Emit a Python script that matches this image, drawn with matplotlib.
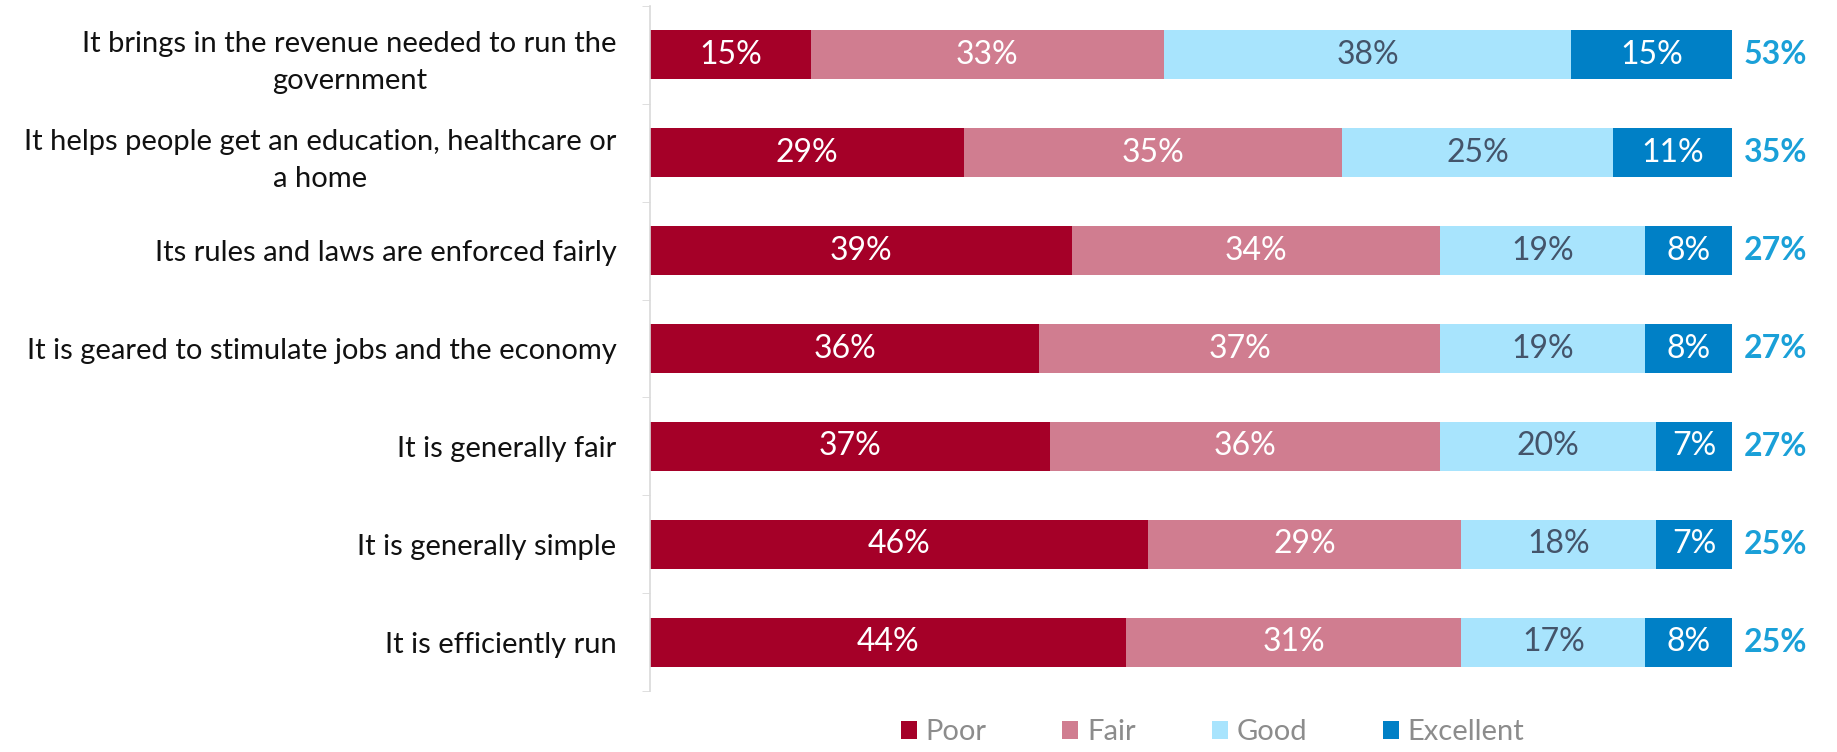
import numpy as np
import matplotlib.pyplot as plt

plt.rcParams['font.family'] = ['Lato', 'DejaVu Sans']

categories = [
    "It brings in the revenue needed to run the\ngovernment",
    "It helps people get an education, healthcare or\na home",
    "Its rules and laws are enforced fairly",
    "It is geared to stimulate jobs and the economy",
    "It is generally fair",
    "It is generally simple",
    "It is efficiently run",
]
poor = [15, 29, 39, 36, 37, 46, 44]
fair = [33, 35, 34, 37, 36, 29, 31]
good = [38, 25, 19, 19, 20, 18, 17]
excellent = [15, 11, 8, 8, 7, 7, 8]
totals = [53, 35, 27, 27, 27, 25, 25]

series = [("Poor", poor, "#A50028", "white"),
          ("Fair", fair, "#D07D90", "white"),
          ("Good", good, "#A8E4FD", "#44546A"),
          ("Excellent", excellent, "#0080C6", "white")]

fig = plt.figure(figsize=(18.37, 7.52), dpi=100)
ax = fig.add_axes([0.3538, 0.081, 0.589, 0.911])

data = np.array([s[1] for s in series], dtype=float)
shares = data / data.sum(axis=0) * 100
y = np.arange(len(categories))
left = np.zeros(len(categories))
for (name, vals, col, tcol), w in zip(series, shares):
    ax.barh(y, w, left=left, height=0.5, color=col, label=name)
    for yi, li, wi, v in zip(y, left, w, vals):
        ax.text(li + wi / 2, yi, f"{v}%", ha='center', va='center',
                color=tcol, fontsize=23)
    left += w

for yi, t in zip(y, totals):
    ax.text(101.1, yi, f"{t}%", ha='left', va='center', color='#1AA0D8',
            fontsize=23, fontweight='bold')

ax.set_xlim(0, 100)
ax.set_ylim(len(categories) - 0.5, -0.5)
ax.set_yticks(y)
ax.set_yticklabels(categories, fontsize=21, color='#111111',
                   multialignment='center', linespacing=1.5)
ax.set_yticks(np.arange(len(categories) + 1) - 0.5, minor=True)
ax.tick_params(axis='y', which='major', length=0, pad=24)
ax.tick_params(axis='y', which='minor', length=6, color='#D9D9D9')
ax.set_xticks([])
for s in ['top', 'right', 'bottom']:
    ax.spines[s].set_visible(False)
ax.spines['left'].set_color('#D9D9D9')
ax.spines['left'].set_linewidth(1.2)

leg = ax.legend(loc='center', bbox_to_anchor=(0.52, -0.06), ncol=4,
                frameon=False, fontsize=21, handlelength=0.55, handleheight=0.55,
                columnspacing=2.6, handletextpad=0.3)
for t in leg.get_texts():
    t.set_color('#8C8C8C')

fig.savefig("out.png", dpi=100)
